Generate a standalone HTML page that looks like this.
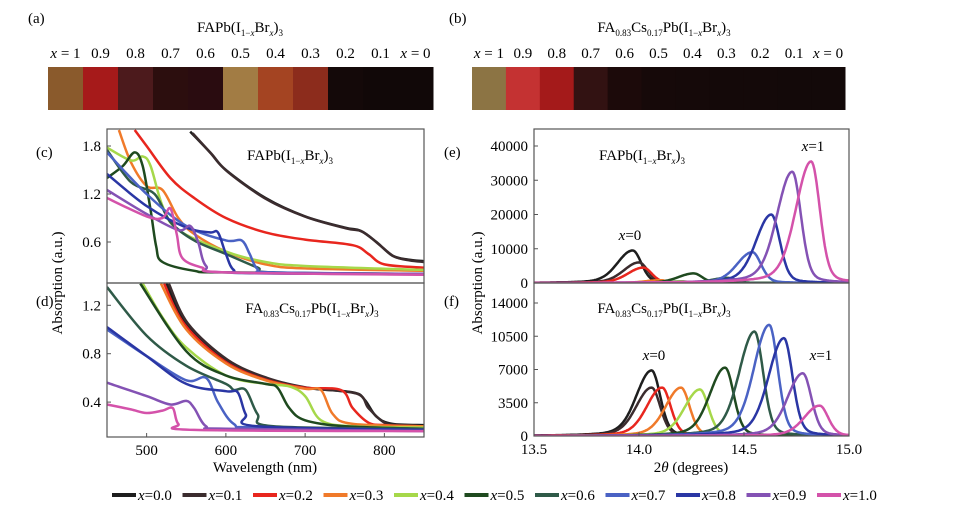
<!DOCTYPE html>
<html><head><meta charset="utf-8"><style>
html,body{margin:0;padding:0;background:#fff;}
svg{display:block;font-family:"Liberation Serif",serif;}
</style></head><body>
<svg id="fig" width="970" height="517" viewBox="0 0 970 517" xmlns="http://www.w3.org/2000/svg">
<g id="topstrips"></g>
<g id="charts"></g>
</svg>
<script>
const NS="http://www.w3.org/2000/svg";
const seriesLabels=["x=0.0","x=0.1","x=0.2","x=0.3","x=0.4","x=0.5","x=0.6","x=0.7","x=0.8","x=0.9","x=1.0"];
const seriesColors=["#1e1e1e","#3b2c2e","#e8261e","#f07a2a","#a6d84a","#1f4a1f","#2f5a48","#4a62c4","#2a36a4","#8452b4","#d452aa"];
const stripLabels=["x = 1","0.9","0.8","0.7","0.6","0.5","0.4","0.3","0.2","0.1","x = 0"];
const stripColorsA=["#8a5a2c","#a61a1a","#4c1a1c","#2c0e0e","#2a0c10","#a27c44","#a44422","#8c2c1c","#140909","#110808","#110808"];
const stripColorsB=["#8c7444","#c43232","#a41a1a","#321212","#1c0a0a","#160909","#150909","#140909","#140909","#130909","#130909"];
const absWlC=[
[555,580,600,650,700,750,770,790,810,830,850],
[558,582,602,652,702,752,772,792,812,832,850],
[485,500,530,560,600,650,700,760,780,800,850],
[465,480,500,520,540,560,600,650,700,850],
[450,480,495,505,520,540,600,650,700,850],
[450,470,485,495,505,512,520,560,600,850],
[450,480,510,530,560,600,640,660,850],
[450,500,550,600,620,630,640,660,850],
[450,500,550,580,590,600,610,630,850],
[450,500,540,555,565,575,600,850],
[450,500,520,530,538,545,570,600,850]];
const absValC=[
[1.98,1.72,1.5,1.15,0.92,0.78,0.74,0.6,0.43,0.38,0.36],
[1.96,1.7,1.48,1.13,0.91,0.77,0.73,0.58,0.42,0.37,0.35],
[2.0,1.8,1.4,1.15,0.9,0.72,0.63,0.56,0.45,0.32,0.28],
[2.0,1.6,1.3,1.25,0.9,0.7,0.48,0.32,0.27,0.24],
[1.78,1.62,1.67,1.55,1.05,0.75,0.48,0.35,0.3,0.25],
[1.4,1.55,1.72,1.55,1.0,0.55,0.35,0.24,0.22,0.2],
[1.75,1.35,1.2,0.85,0.62,0.45,0.28,0.22,0.2],
[1.72,1.2,0.8,0.62,0.62,0.45,0.26,0.22,0.2],
[1.45,1.05,0.78,0.72,0.72,0.45,0.25,0.21,0.2],
[1.25,0.95,0.75,0.8,0.6,0.3,0.22,0.2],
[1.15,0.92,0.9,1.02,0.7,0.4,0.28,0.22,0.19]];
const absWlD=[
[525,550,600,650,700,760,775,790,810,850],
[528,552,602,652,702,765,780,800,820,850],
[522,548,598,648,698,745,760,780,800,850],
[518,550,600,650,700,720,735,760,850],
[495,520,550,600,650,680,700,720,760,850],
[492,550,600,650,665,680,700,750,850],
[450,500,550,600,610,625,640,660,850],
[450,500,550,575,590,610,640,850],
[450,500,550,600,615,625,640,850],
[450,500,530,550,560,575,600,850],
[450,480,500,520,533,540,560,850]];
const absValD=[
[1.38,1.05,0.75,0.6,0.52,0.48,0.42,0.28,0.22,0.21],
[1.38,1.05,0.75,0.6,0.52,0.47,0.35,0.23,0.21,0.2],
[1.38,1.04,0.74,0.59,0.52,0.5,0.35,0.23,0.21,0.2],
[1.38,1.0,0.72,0.58,0.51,0.5,0.3,0.22,0.2],
[1.38,1.1,0.85,0.62,0.55,0.53,0.45,0.25,0.2,0.19],
[1.38,0.82,0.62,0.55,0.52,0.35,0.25,0.2,0.18],
[1.35,0.95,0.7,0.55,0.5,0.5,0.3,0.2,0.18],
[1.0,0.78,0.58,0.6,0.4,0.22,0.19,0.17],
[1.02,0.78,0.55,0.49,0.48,0.3,0.2,0.17],
[0.56,0.45,0.38,0.41,0.35,0.2,0.18,0.16],
[0.38,0.34,0.31,0.33,0.35,0.22,0.17,0.16]];
const xrdPosE=[13.97,14.0,14.02,14.1,14.2,14.26,14.42,14.54,14.63,14.73,14.82];
const xrdHtE=[9500,6000,4500,800,500,2800,1500,9000,20000,32500,35500];
const xrdPosF=[14.06,14.06,14.11,14.2,14.29,14.41,14.55,14.62,14.69,14.78,14.86];
const xrdHtF=[6900,5100,5100,5100,4900,7200,11000,11700,10300,6600,3200];
const absTicksX=[500,600,700,800];
const absTicksC=[0.6,1.2,1.8];
const absTicksD=[0.4,0.8,1.2];
const xrdTicksX=[13.5,14.0,14.5,15.0];
const xrdTicksE=[0,10000,20000,30000,40000];
const xrdTicksF=[0,3500,7000,10500,14000];
const FS=15;

function el(tag,attrs,parent,txt){const e=document.createElementNS(NS,tag);for(const k in attrs)e.setAttribute(k,attrs[k]);if(txt!==undefined)e.textContent=txt;parent.appendChild(e);return e;}
const topG=document.getElementById('topstrips'), charts=document.getElementById('charts');

function formula(parent,x,y,cs,name){
  const t=el('text',{x:x,y:y,'font-size':FS,'text-anchor':'middle'},parent);
  
  
  const parts=cs?[["FA",0],["0.83",1],["Cs",0],["0.17",1],["Pb(I",0],["1−",1],["x",3],["Br",0],["x",3],[")",0],["3",1]]:[["FAPb(I",0],["1−",1],["x",3],["Br",0],["x",3],[")",0],["3",1]];
  parts.forEach(p=>{const s=el('tspan',{},t,p[0]);
    if(p[1]>0){s.setAttribute('font-size',9);s.setAttribute('baseline-shift','-4');}
    if(p[1]===3)s.setAttribute('font-style','italic');
  });
  return t;
}
function strip(x0,label,lx,cs,colors,nm){
  const tl=el('text',{x:lx,y:23,'font-size':FS},topG,label);
  
  
  formula(topG,x0+192,32,cs,nm+'-title');
  const w=(cs?373:385)/11;
  colors.forEach((c,i)=>{
    const r=el('rect',{x:x0+i*w,y:67,width:w+0.5,height:43,fill:c},topG);
    
    
    const t=el('text',{x:x0+i*w+w/2,y:58,'font-size':FS,'text-anchor':'middle'},topG);
    
    
    const s=stripLabels[i];
    if(s.startsWith('x')){el('tspan',{'font-style':'italic'},t,'x');el('tspan',{},t,s.slice(1));}else t.textContent=s;
  });
}
strip(48,'(a)',28,false,stripColorsA,'strip-a');
strip(472,'(b)',449,true,stripColorsB,'strip-b');

function smooth(pts){
  let d='M'+pts[0][0].toFixed(1)+','+pts[0][1].toFixed(1);
  for(let i=0;i<pts.length-1;i++){
    const p0=pts[Math.max(0,i-1)],p1=pts[i],p2=pts[i+1],p3=pts[Math.min(pts.length-1,i+2)];
    const c1=[p1[0]+(p2[0]-p0[0])/6,p1[1]+(p2[1]-p0[1])/6],c2=[p2[0]-(p3[0]-p1[0])/6,p2[1]-(p3[1]-p1[1])/6];
    d+='C'+c1.map(v=>v.toFixed(1)).join(',')+' '+c2.map(v=>v.toFixed(1)).join(',')+' '+p2[0].toFixed(1)+','+p2[1].toFixed(1);
  }
  return d;
}
function panel(opt){
  const g=el('g',{},charts);
  
  
  const cid='clip-'+opt.name;
  const cp=el('clipPath',{id:cid},g);el('rect',{x:opt.x0,y:opt.yt,width:opt.x1-opt.x0,height:opt.yb-opt.yt},cp);
  const sx=v=>opt.x0+(v-opt.xmin)/(opt.xmax-opt.xmin)*(opt.x1-opt.x0);
  const sy=v=>opt.yb-(v-opt.ymin)/(opt.ymax-opt.ymin)*(opt.yb-opt.yt);
  const lg=el('g',{'clip-path':'url(#'+cid+')'},g);
  opt.draw(lg,sx,sy);
  const fr=el('rect',{x:opt.x0,y:opt.yt,width:opt.x1-opt.x0,height:opt.yb-opt.yt,fill:'none',stroke:'#555','stroke-width':1.2},g);
  
  
  opt.yticks.forEach(v=>{
    const y=sy(v);
    el('line',{x1:opt.x0,x2:opt.x0+4,y1:y,y2:y,stroke:'#555'},g);
    const t=el('text',{x:opt.x0-6,y:y+5,'font-size':FS,'text-anchor':'end'},g,opt.fmt(v));
    
    
  });
  if(opt.xticks)opt.xticks.forEach(v=>{
    const x=sx(v);
    el('line',{x1:x,x2:x,y1:opt.yb,y2:opt.yb-4,stroke:'#555'},g);
    const t=el('text',{x:x,y:opt.yb+18,'font-size':FS,'text-anchor':'middle'},g,opt.xfmt(v));
    
    
  });
  return g;
}
function absDraw(wls,vals){return (g,sx,sy)=>{
  for(let i=0;i<wls.length;i++){
    const pts=wls[i].map((w,j)=>[sx(w),sy(vals[i][j])]);
    const p=el('path',{d:smooth(pts),fill:'none',stroke:seriesColors[i],'stroke-width':2.5,'stroke-linejoin':'round'},g);
    
    
  }
};}
function xrdDraw(pos,ht){return (g,sx,sy)=>{
  for(let i=0;i<pos.length;i++){
    let d='';
    for(let k=0;k<=300;k++){
      const t=13.5+k*0.005, dx=t-pos[i];
      const s=dx<0?0.07:0.04;
      const L=dx<0?0.12:0.06;
      const v=ht[i]*(0.8*Math.exp(-dx*dx/(2*s*s))+0.2/(1+(dx/L)*(dx/L)));
      d+=(k?'L':'M')+sx(t).toFixed(1)+','+sy(v).toFixed(1);
    }
    const p=el('path',{d:d,fill:'none',stroke:seriesColors[i],'stroke-width':2.5,'stroke-linejoin':'round'},g);
    
    
  }
};}
panel({name:'panel-c',x0:107,x1:424,yt:129,yb:283,xmin:450,xmax:850,ymin:(290-283)/80,ymax:(290-129)/80,yticks:absTicksC,fmt:v=>v.toFixed(1),draw:absDraw(absWlC,absValC)});
panel({name:'panel-d',x0:107,x1:424,yt:283,yb:437,xmin:450,xmax:850,ymin:(450.5-437)/121,ymax:(450.5-283)/121,yticks:absTicksD,fmt:v=>v.toFixed(1),xticks:absTicksX,xfmt:v=>String(v),draw:absDraw(absWlD,absValD)});
panel({name:'panel-e',x0:534,x1:849,yt:129,yb:283,xmin:13.5,xmax:15,ymin:0,ymax:154/137*40000,yticks:xrdTicksE,fmt:v=>String(v),draw:xrdDraw(xrdPosE,xrdHtE)});
panel({name:'panel-f',x0:534,x1:849,yt:283,yb:436,xmin:13.5,xmax:15,ymin:0,ymax:153/133*14000,yticks:xrdTicksF,fmt:v=>String(v),xticks:xrdTicksX,xfmt:v=>v.toFixed(1),draw:xrdDraw(xrdPosF,xrdHtF)});
[['(c)',36,157],['(d)',36,306],['(e)',444,157],['(f)',444,306]].forEach(a=>{
  const t=el('text',{x:a[1],y:a[2],'font-size':FS},charts,a[0]);
  
  
});
formula(charts,290,160,false,'panel-c-title');
formula(charts,312,313,true,'panel-d-title');
formula(charts,642,160,false,'panel-e-title');
formula(charts,664,313,true,'panel-f-title');
[[630,240,'0','label-x0-e'],[813,151,'1','label-x1-e'],[654,360,'0','label-x0-f'],[821,360,'1','label-x1-f']].forEach(a=>{
  const t=el('text',{x:a[0],y:a[1],'font-size':FS,'text-anchor':'middle'},charts);
  
  
  el('tspan',{'font-style':'italic'},t,'x');el('tspan',{},t,'='+a[2]);
});
[[62,'y-axis-title-left'],[482,'y-axis-title-right']].forEach(a=>{
  const t=el('text',{x:a[0],y:283,'font-size':FS,'text-anchor':'middle',transform:'rotate(-90 '+a[0]+' 283)'},charts,'Absorption (a.u.)');
  
  
});
const xl=el('text',{x:265,y:472,'font-size':FS,'text-anchor':'middle'},charts,'Wavelength (nm)');


const xr=el('text',{x:691,y:472,'font-size':FS,'text-anchor':'middle'},charts);


el('tspan',{},xr,'2');el('tspan',{'font-style':'italic'},xr,'θ');el('tspan',{},xr,' (degrees)');
const lgd=el('g',{},charts);


seriesLabels.forEach((s,i)=>{
  const x=112+i*70.5;
  const e=el('g',{},lgd);
  
  
  el('line',{x1:x,x2:x+24,y1:495,y2:495,stroke:seriesColors[i],'stroke-width':4},e);
  const t=el('text',{x:x+26,y:500,'font-size':FS},e);
  el('tspan',{'font-style':'italic'},t,'x');el('tspan',{},t,s.slice(1));
});
</script>
</body></html>
